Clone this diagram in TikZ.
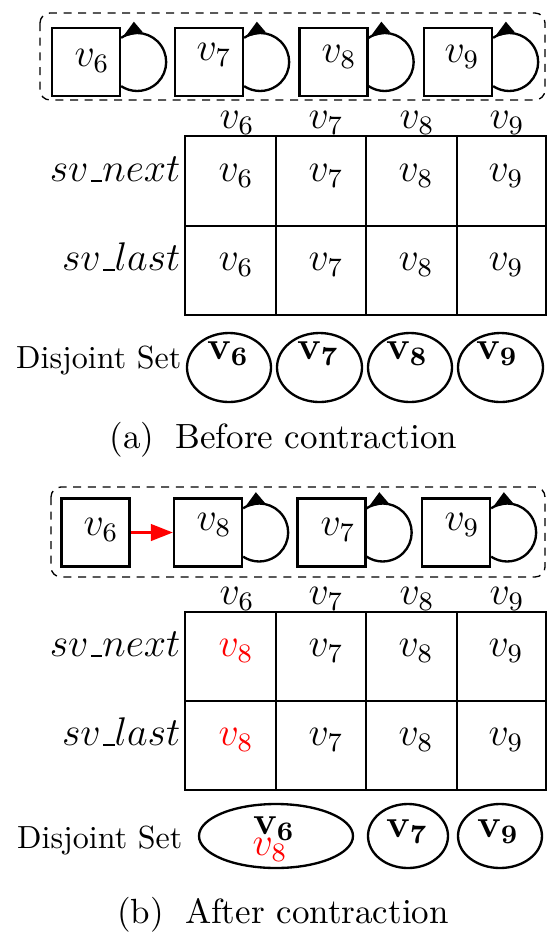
\documentclass[tikz,border=0pt]{standalone}
\usetikzlibrary{shapes.geometric,arrows.meta}
\newcommand\vloop[1]{%
  \draw[selfloop] (#1.east) ++(0,-24.2) arc[start angle=-123.5,end angle=123.5,radius=29];
  \fill ([shift={(1.7,-25.3)}]#1.east) -- ([shift={(21.7,-29.7)}]#1.east) -- ([shift={(12.7,-40.3)}]#1.east) -- cycle;}
\newcommand\usc{\kern.06em\vbox{\hrule width.3em height 0.45pt}}
\begin{document}
\begin{tikzpicture}[x=0.3pt,y=-0.3pt,
  mth/.style={font=\fontsize{11.5}{14}\selectfont, inner sep=0pt},
  txt/.style={font=\fontsize{9.6}{12}\selectfont, inner sep=0pt},
  captxt/.style={font=\fontsize{10.5}{12}\selectfont, inner sep=0pt},
  vbox/.style={draw, line width=0.7pt, minimum width=20.4pt, minimum height=20.4pt, inner sep=0pt},
  grp/.style={draw, dash pattern=on 2.4pt off 2pt, line width=0.4pt, rounded corners=3pt},
  ds/.style={draw, ellipse, line width=0.7pt, inner sep=0pt, minimum height=20.4pt},
  tbl/.style={line width=0.75pt},
  selfloop/.style={line width=0.7pt}]
\useasboundingbox (0,0) rectangle (547,933);

% ================= (a) =================
\draw[grp] (40,13) rectangle (545,100);
\node[vbox] (a6) at (86,62) {};
\node[vbox] (a7) at (209,62) {};
\node[vbox] (a8) at (333.5,62) {};
\node[vbox] (a9) at (458,62) {};
\node[mth, anchor=base] (la6) at (92,66) {$v_6$};
\node[mth, anchor=base] (la7) at (214,60) {$v_7$};
\node[mth, anchor=base] (la8) at (339,62) {$v_8$};
\node[mth, anchor=base] (la9) at (462,62) {$v_9$};
\vloop{a6}\vloop{a7}\vloop{a8}\vloop{a9}

% headers
\node[mth, anchor=base] (ha6) at (237,128) {$v_6$};
\node[mth, anchor=base] (ha7) at (326,128) {$v_7$};
\node[mth, anchor=base] (ha8) at (417,128) {$v_8$};
\node[mth, anchor=base] (ha9) at (507,128) {$v_9$};

% table
\draw[tbl] (185,136) rectangle (546,315);
\draw[tbl] (185,226) -- (546,226);
\draw[tbl] (276,136) -- (276,315);
\draw[tbl] (366,136) -- (366,315);
\draw[tbl] (457,136) -- (457,315);
\node[mth, anchor=base east] (rna) at (181,181.5) {$sv\usc next$};
\node[mth, anchor=base east] (rla) at (181,270.5) {$sv\usc last$};
\node[mth, anchor=base] (na6) at (236,181.5) {$v_6$};
\node[mth, anchor=base] (na7) at (326,181.5) {$v_7$};
\node[mth, anchor=base] (na8) at (416,181.5) {$v_8$};
\node[mth, anchor=base] (na9) at (506,181.5) {$v_9$};
\node[mth, anchor=base] (sa6) at (236,270.5) {$v_6$};
\node[mth, anchor=base] (sa7) at (326,270.5) {$v_7$};
\node[mth, anchor=base] (sa8) at (416,270.5) {$v_8$};
\node[mth, anchor=base] (sa9) at (506,270.5) {$v_9$};

% disjoint set
\node[txt, anchor=base east] (dsa) at (182,368) {Disjoint Set};
\node[ds, minimum width=25.2pt, minimum height=20.7pt] (ea6) at (229,367.5) {};
\node[ds, minimum width=25.5pt, minimum height=20.7pt] (ea7) at (319.5,367.5) {};
\node[ds, minimum width=25.2pt, minimum height=20.7pt] (ea8) at (410,367.5) {};
\node[ds, minimum width=25.5pt, minimum height=20.7pt] (ea9) at (500.5,367.5) {};
\node[mth, anchor=base] (ba6) at (228,359) {$\mathbf{v_6}$};
\node[mth, anchor=base] (ba7) at (318,359) {$\mathbf{v_7}$};
\node[mth, anchor=base] (ba8) at (407,359) {$\mathbf{v_8}$};
\node[mth, anchor=base] (ba9) at (497,359) {$\mathbf{v_9}$};

\node[captxt, anchor=base] (capa) at (283.5,448) {(a)\hspace{0.6em}Before contraction};

% ================= (b) =================
\draw[grp] (51,487) rectangle (545,577);
\node[vbox] (b6) at (95.5,532.5) {};
\node[vbox] (b8) at (208,532.5) {};
\node[vbox] (b7) at (331.5,532.5) {};
\node[vbox] (b9) at (456,532.5) {};
\node[mth, anchor=base] (lb6) at (101,535) {$v_6$};
\node[mth, anchor=base] (lb8) at (214,530) {$v_8$};
\node[mth, anchor=base] (lb7) at (338,535) {$v_7$};
\node[mth, anchor=base] (lb9) at (462,530) {$v_9$};
\vloop{b8}\vloop{b7}\vloop{b9}
\draw[red, line width=0.7pt, -{Triangle[length=6.6pt,width=5pt]}] (b6.east) -- (b8.west);

% headers
\node[mth, anchor=base] (hb6) at (237,604) {$v_6$};
\node[mth, anchor=base] (hb7) at (326,604) {$v_7$};
\node[mth, anchor=base] (hb8) at (417,604) {$v_8$};
\node[mth, anchor=base] (hb9) at (507,604) {$v_9$};

% table
\draw[tbl] (185,612) rectangle (546,790);
\draw[tbl] (185,701) -- (546,701);
\draw[tbl] (276,612) -- (276,790);
\draw[tbl] (366,612) -- (366,790);
\draw[tbl] (457,612) -- (457,790);
\node[mth, anchor=base east] (rnb) at (181,656.5) {$sv\usc next$};
\node[mth, anchor=base east] (rlb) at (181,745.5) {$sv\usc last$};
\node[mth, anchor=base, red] (nb6) at (236,656.5) {$v_8$};
\node[mth, anchor=base] (nb7) at (326,656.5) {$v_7$};
\node[mth, anchor=base] (nb8) at (416,656.5) {$v_8$};
\node[mth, anchor=base] (nb9) at (506,656.5) {$v_9$};
\node[mth, anchor=base, red] (sb6) at (236,745.5) {$v_8$};
\node[mth, anchor=base] (sb7) at (326,745.5) {$v_7$};
\node[mth, anchor=base] (sb8) at (416,745.5) {$v_8$};
\node[mth, anchor=base] (sb9) at (506,745.5) {$v_9$};

% disjoint set
\node[txt, anchor=base east] (dsb) at (183,848) {Disjoint Set};
\node[ds, minimum width=46.2pt, minimum height=19.2pt] (eb6) at (276,836) {};
\node[ds, minimum width=24pt, minimum height=19.2pt] (eb7) at (408,836) {};
\node[ds, minimum width=25.2pt, minimum height=19.2pt] (eb9) at (500,836) {};
\node[mth, anchor=base] (bb6) at (274,834) {$\mathbf{v_6}$};
\node[mth, anchor=base, red] (bb8) at (270,855) {$v_8$};
\node[mth, anchor=base] (bb7) at (407,837) {$\mathbf{v_7}$};
\node[mth, anchor=base] (bb9) at (498,837) {$\mathbf{v_9}$};

\node[captxt, anchor=base] (capb) at (283,923) {(b)\hspace{0.6em}After contraction};
\end{tikzpicture}
\end{document}
